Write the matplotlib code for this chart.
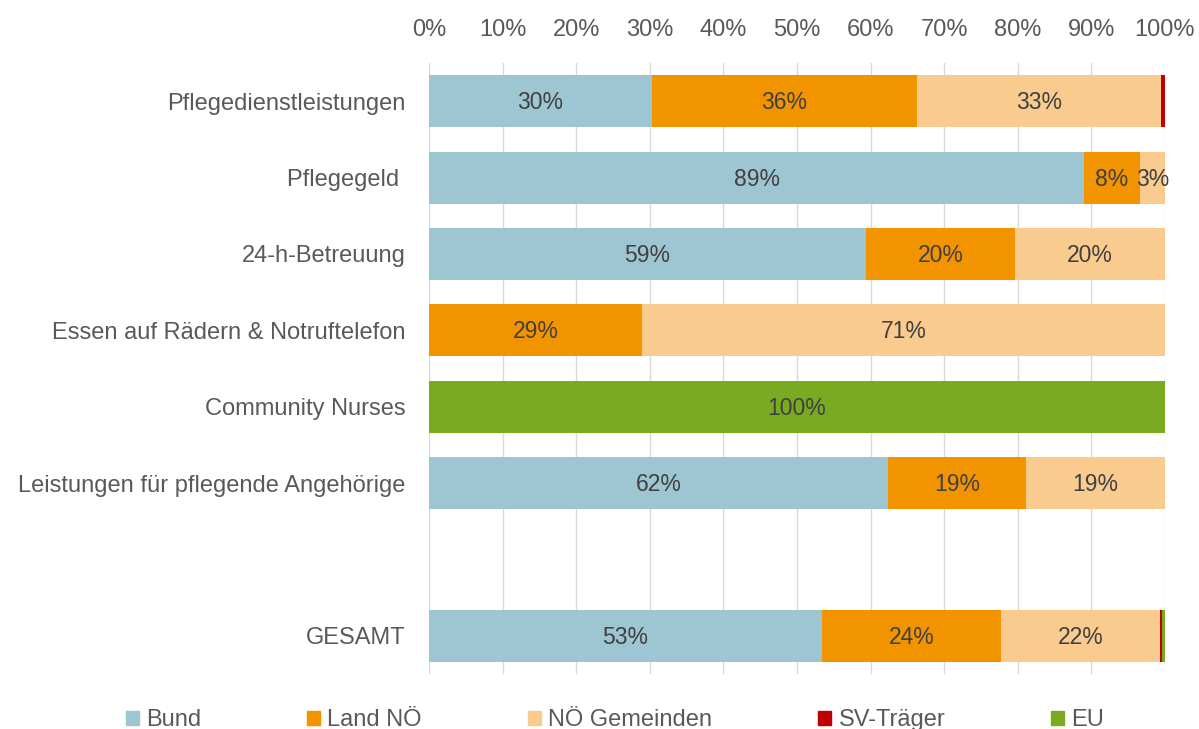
import numpy as np
import matplotlib.pyplot as plt
from matplotlib.patches import Patch

plt.rcParams['font.family'] = ['Liberation Sans', 'DejaVu Sans']

categories = ["Pflegedienstleistungen", "Pflegegeld ", "24-h-Betreuung",
              "Essen auf Rädern & Notruftelefon", "Community Nurses",
              "Leistungen für pflegende Angehörige", "", "GESAMT"]
series = ["Bund", "Land NÖ", "NÖ Gemeinden", "SV-Träger", "EU"]
bund      = [30.3, 89.0, 59.4, 0.0, 0.0, 62.4, 0.0, 53.4]
land      = [36.0, 7.6, 20.2, 28.9, 0.0, 18.7, 0.0, 24.3]
gemeinden = [33.2, 3.4, 20.4, 71.1, 0.0, 18.9, 0.0, 21.6]
sv        = [0.5, 0.0, 0.0, 0.0, 0.0, 0.0, 0.0, 0.3]
eu        = [0.0, 0.0, 0.0, 0.0, 100.0, 0.0, 0.0, 0.4]
colors = ["#9DC5D2", "#F29400", "#FACB8E", "#C00000", "#7AAA22"]

data = [bund, land, gemeinden, sv, eu]

fig = plt.figure(figsize=(11.99, 7.29), dpi=100)
ax = fig.add_axes([429/1199, 55/729, 736/1199, 611/729])

y = np.arange(len(categories))
left = np.zeros(len(categories))
for vals, col, name in zip(data, colors, series):
    vals = np.array(vals)
    ax.barh(y, vals, left=left, color=col, height=0.68, label=name)
    for yi, v, l in zip(y, vals, left):
        if v >= 2:
            ax.text(l + v / 2, yi + 0.02, f"{v:.0f}%", ha="center", va="center",
                    fontsize=16.5, color="#404040")
    left = left + vals

ax.set_xlim(0, 100)
ax.set_ylim(len(categories) - 0.5, -0.5)
ax.set_xticks(np.arange(0, 101, 10))
ax.set_xticklabels([f"{t}%" for t in range(0, 101, 10)])
ax.xaxis.tick_top()
ax.set_yticks(y)
ax.set_yticklabels(categories)
ax.tick_params(axis="both", length=0, labelsize=17, colors="#595959")
ax.tick_params(axis="x", pad=16)
ax.tick_params(axis="y", pad=17)
ax.grid(axis="x", color="#D9D9D9", linewidth=1)
ax.set_axisbelow(True)
for s in ax.spines.values():
    s.set_visible(False)

handles = [Patch(color=c) for c in colors]
fig.legend(handles, series, loc="center", bbox_to_anchor=(0.513, 0.012), ncol=5,
           frameon=False, fontsize=17, labelcolor="#595959", handlelength=0.55,
           handleheight=0.55, handletextpad=0.3, columnspacing=4.5)

fig.savefig("out.png", dpi=100)
